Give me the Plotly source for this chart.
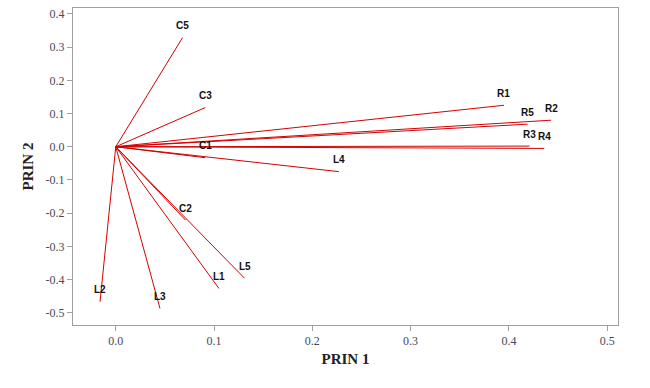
import plotly.graph_objects as go

names = ["C5", "C3", "C1", "R1", "R2", "R5", "R3", "R4", "L4", "C2", "L5", "L1", "L2", "L3"]
prin1 = [0.068, 0.091, 0.091, 0.395, 0.443, 0.419, 0.421, 0.436, 0.227, 0.071, 0.131, 0.105, -0.016, 0.045]
prin2 = [0.329, 0.118, -0.033, 0.125, 0.080, 0.068, 0.002, -0.005, -0.075, -0.221, -0.396, -0.427, -0.467, -0.487]

xticks = [0.0, 0.1, 0.2, 0.3, 0.4, 0.5]
xticklabels = ["0.0", "0.1", "0.2", "0.3", "0.4", "0.5"]
yticks = [0.4, 0.3, 0.2, 0.1, 0.0, -0.1, -0.2, -0.3, -0.4, -0.5]
yticklabels = ["0.4", "0.3", "0.2", "0.1", "0.0", "-0.1", "-0.2", "-0.3", "-0.4", "-0.5"]

fig = go.Figure()
lx, ly = [], []
for x, y in zip(prin1, prin2):
    lx += [0, x, None]
    ly += [0, y, None]
fig.add_trace(go.Scatter(x=lx, y=ly, mode="lines",
                         line=dict(color="#d40000", width=1), hoverinfo="skip"))

for n, x, y in zip(names, prin1, prin2):
    fig.add_annotation(x=x, y=y, text="<b>" + n + "</b>", showarrow=False, yshift=12,
                       font=dict(family="Liberation Sans", size=10, color="#111111"))

axis_common = dict(showgrid=False, zeroline=False, showline=True, linecolor="#a0a0a0",
                   linewidth=1, mirror=True, ticks="outside", tickcolor="#a0a0a0",
                   ticklen=5,
                   tickfont=dict(family="Liberation Serif", size=12, color="#484858"))

fig.update_layout(
    width=650, height=388,
    margin=dict(l=73, r=32, t=8, b=63, autoexpand=False),
    paper_bgcolor="white", plot_bgcolor="white",
    showlegend=False,
    xaxis=dict(range=[-0.0435, 0.511], tickvals=xticks, ticktext=xticklabels,
               title=dict(text="<b>PRIN 1</b>", standoff=6,
                          font=dict(family="Liberation Serif", size=15, color="#222222")),
               **axis_common),
    yaxis=dict(range=[-0.537, 0.418], tickvals=yticks, ticktext=yticklabels,
               title=dict(text="<b>PRIN 2</b>", standoff=8,
                          font=dict(family="Liberation Serif", size=15, color="#222222")),
               **axis_common),
)

fig.write_html("out.html", config={"displayModeBar": False},
               post_script="document.body.style.margin='0';")
